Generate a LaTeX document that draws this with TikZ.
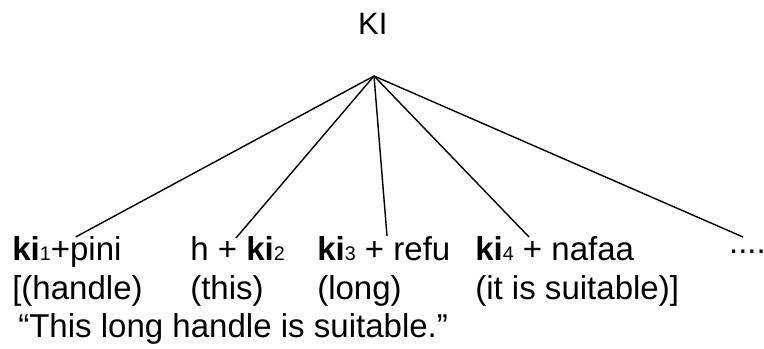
\documentclass[tikz,border=0pt]{standalone}
\usepackage{fontspec}
\setmainfont{Liberation Sans}
\newcommand{\kisub}[1]{\textbf{ki}{\fontsize{14}{14}\selectfont #1}}

\begin{document}
\begin{tikzpicture}[
    branch/.style={line width=1pt},
    word/.style={anchor=base west, inner sep=0pt, font=\fontsize{23.5}{28}\selectfont}
]
    \useasboundingbox (0,0) rectangle (19.1,-8.725);

    % Корень KI и точка ветвления
    \node[word, anchor=base, font=\fontsize{22}{26}\selectfont] (root) at (9.32, -0.86) {KI};
    \coordinate (top) at (9.35, -1.9);

    % Концы ветвей
    \coordinate (e1) at (1.89, -5.925);
    \coordinate (e2) at (5.9, -5.95);
    \coordinate (e3) at (9.675, -5.9);
    \coordinate (e4) at (13.225, -5.925);
    \coordinate (e5) at (18.575, -5.925);

    % Ветви
    \draw[branch] (top) -- (e1);
    \draw[branch] (top) -- (e2);
    \draw[branch] (top) -- (e3);
    \draw[branch] (top) -- (e4);
    \draw[branch] (top) -- (e5);

    % Слова (первая строка)
    \node[word] (w1) at (0.3, -6.525) {\kisub{1}+pini};
    \node[word] (w2) at (4.75, -6.525) {h + \kisub{2}};
    \node[word] (w3) at (7.925, -6.525) {\kisub{3} + refu};
    \node[word] (w4) at (11.875, -6.525) {\kisub{4} + nafaa};
    \node[word] (w5) at (18.22, -6.525) {\raisebox{5.5pt}{....}};

    % Глоссы (вторая строка)
    \node[word] (g1) at (0.3, -7.5) {[(handle)};
    \node[word] (g2) at (4.75, -7.5) {(this)};
    \node[word] (g3) at (7.925, -7.5) {(long)};
    \node[word] (g4) at (11.875, -7.5) {(it is suitable)]};

    % Перевод
    \node[word] (tr) at (0.45, -8.45) {“This long handle is suitable.”};
\end{tikzpicture}
\end{document}
